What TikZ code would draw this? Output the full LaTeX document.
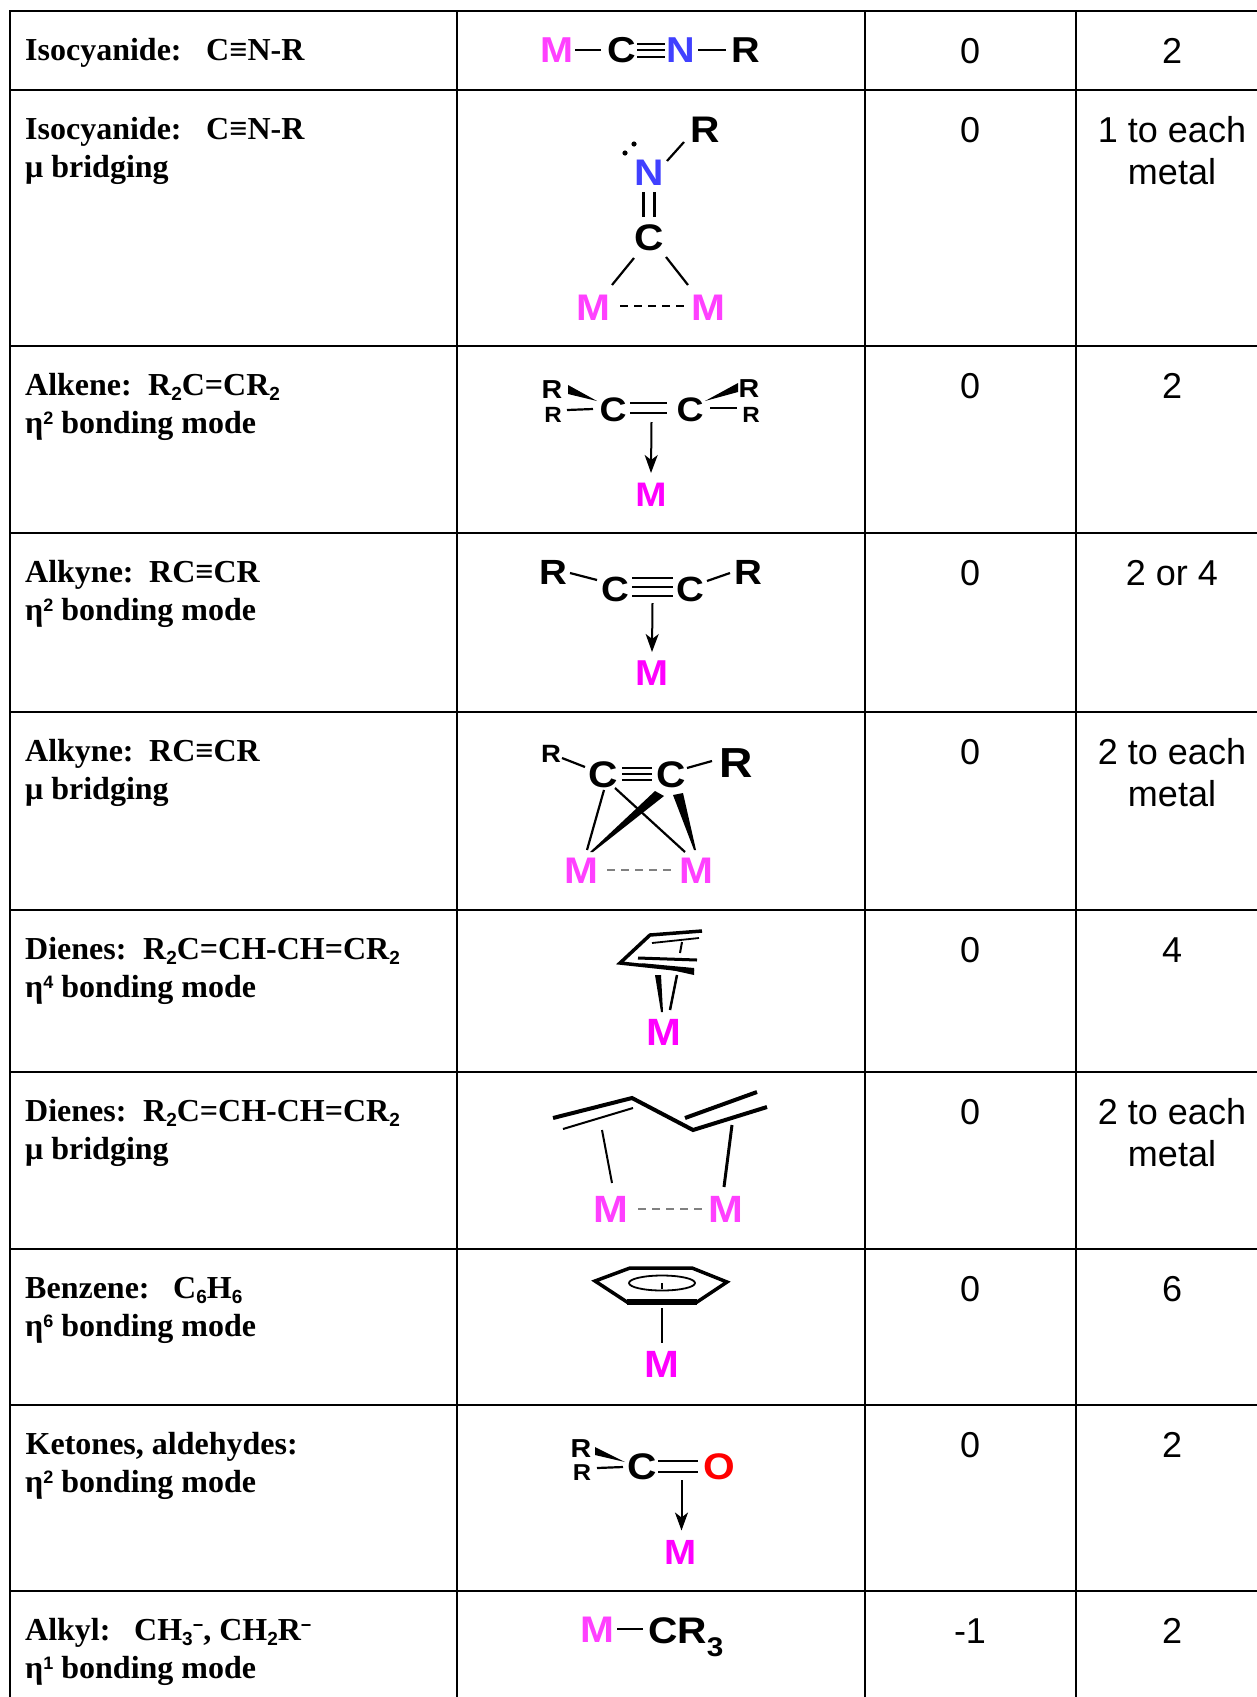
\documentclass[tikz,border=0pt]{standalone}
\usepackage{fontspec}
\setmainfont{Liberation Serif}
\newfontfamily\sansf{Liberation Sans}
\newfontfamily\chemf[FakeStretch=1.1]{Liberation Sans}
\usetikzlibrary{arrows.meta,calc}
\newcommand\fs[1]{\fontsize{#1}{#1}\selectfont}
\newcommand\lsub[1]{\raisebox{-5pt}{\sansf\bfseries\fs{19}#1}}
\newcommand\lsup[1]{\raisebox{9pt}{\sansf\bfseries\fs{18}#1}}
\definecolor{mpink}{RGB}{255,64,255}
\definecolor{mmag}{RGB}{255,0,255}
\definecolor{nblue}{RGB}{64,64,255}
\definecolor{ored}{RGB}{255,0,0}
\begin{document}
\begin{tikzpicture}[x=1pt,y=-1pt,
 tabline/.style={line width=2.6pt,line cap=rect},
 lbl/.style={font=\bfseries\fs{32},anchor=base west,inner sep=0pt},
 valtxt/.style={font=\sansf\fs{36},anchor=base,inner sep=0pt},
 atom/.style={font=\chemf\bfseries\fs{#1},inner sep=0pt},atom/.default=36,
 metal/.style={atom=#1,text=mpink},metal/.default=36,
 mag/.style={atom=#1,text=mmag},mag/.default=36,
 bond/.style={line width=2.2pt},
 mdash/.style={line width=1.6pt,dash pattern=on 8pt off 6pt,gray},
 dative/.style={line width=2pt,-{Stealth[length=18pt,width=13pt,inset=5pt]}}]
\useasboundingbox (0,0) rectangle (1257,1697);
\clip (0,0) rectangle (1257,1697);
\foreach \x in {10,457,865,1076} \draw[tabline] (\x,11) -- (\x,1720);
\foreach \y in {11,90,346,533,712,910,1072,1249,1405,1591} \draw[tabline] (10,\y) -- (1280,\y);
\foreach \k/\base/\gap/\first/\form/\second in {1/60/181/{Isocyanide:}/{C≡N-R}/{},2/139/181/{Isocyanide:}/{C≡N-R}/{μ bridging},3/395/123/{Alkene:}/{R\lsub{2}C=CR\lsub{2}}/{η\lsup{2} bonding mode},4/582/124/{Alkyne:}/{RC≡CR}/{η\lsup{2} bonding mode},5/761/124/{Alkyne:}/{RC≡CR}/{μ bridging},6/959/118/{Dienes:}/{R\lsub{2}C=CH-CH=CR\lsub{2}}/{η\lsup{4} bonding mode},7/1121/118/{Dienes:}/{R\lsub{2}C=CH-CH=CR\lsub{2}}/{μ bridging},8/1298/148/{Benzene:}/{C\lsub{6}H\lsub{6}}/{η\lsup{6} bonding mode},9/1454/0/{Ketones, aldehydes:}/{}/{η\lsup{2} bonding mode},10/1640/109/{Alkyl:}/{CH\lsub{3}\lsup{−}, CH\lsub{2}R\lsup{−}}/{η\lsup{1} bonding mode}}
 {\node[lbl] (name\k) at (25,\base) {\makebox[\gap pt][l]{\first}\form};
  \node[lbl] (mode\k) at (25,\base+38) {\second};}
\foreach \k/\base/\ox/\ea in {1/63/0/2,2/142/0/1 to each,3/398/0/2,4/585/0/2 or 4,5/764/0/2 to each,6/962/0/4,7/1124/0/2 to each,8/1301/0/6,9/1457/0/2,10/1643/-1/2}
 {\node[valtxt] (ox\k) at (970,\base) {\ox};\node[valtxt] (ea\k) at (1172,\base) {\ea};}
\foreach \k/\base in {2/142,5/764,7/1124} \node[valtxt] (met\k) at (1172,\base+42) {metal};
\node[metal] (m1) at (557,50) {M};\node[atom] (c1) at (622,50) {C};\node[atom,text=nblue] (n1) at (681,50) {N};\node[atom] (r1) at (746,50) {R};
\draw[bond] ($(m1)+(18,0)$) -- ($(c1)+(-21,0)$);\foreach \d in {-6.5,0,6.5} \draw[line width=2pt] ($(c1)+(15,\d)$) -- ($(n1)+(-16,\d)$);\draw[bond] ($(n1)+(17,0)$) -- ($(r1)+(-20,0)$);
\node[atom=37] (r2) at (705,130) {R};\node[atom=37,text=nblue] (n2) at (649,173) {N};\node[atom=37] (c2) at (649,238) {C};\node[metal=37] (m2a) at (593,308) {M};\node[metal=37] (m2b) at (708,308) {M};
\fill ($(n2)+(-24,-20)$) circle (2.6pt) ($(n2)+(-15,-29)$) circle (2.6pt);
\draw[bond] ($(n2)+(18,-12)$) -- ($(r2)+(-21,12)$);\foreach \d in {-5.5,5.5} \draw[bond] ($(n2)+(\d,19)$) -- ($(c2)+(\d,-21)$);
\draw[bond] ($(c2)+(-15,20)$) -- ($(m2a)+(19,-23)$);\draw[bond] ($(c2)+(17,19)$) -- ($(m2b)+(-20,-23)$);\draw[mdash,black] ($(m2a)+(27,-2)$) -- ($(m2b)+(-23,-2)$);
\node[atom=34] (c3a) at (613,410) {C};\node[atom=34] (c3b) at (690,410) {C};\node[atom=26] (r3a) at (552,390) {R};\node[atom=22] (r3b) at (553,415) {R};\node[atom=26] (r3c) at (749,389) {R};\node[atom=22] (r3d) at (751,415) {R};\node[mag=34] (m3) at (651,495) {M};
\foreach \d in {-7,3} \draw[bond] ($(c3a)+(17,\d)$) -- ($(c3b)+(-23,\d)$);
\fill ($(r3a)+(16,-5)$) -- ($(r3a)+(16,4)$) -- ($(c3a)+(-16,-9)$) -- cycle;\draw[bond] ($(r3b)+(14,-5)$) -- ($(c3a)+(-20,-1)$);
\fill ($(c3b)+(15,-9)$) -- ($(r3c)+(-11,-6)$) -- ($(r3c)+(-11,3)$) -- cycle;\draw[bond] ($(c3b)+(20,-2)$) -- ($(r3d)+(-14,-7)$);
\draw[dative] ($($(c3a)!0.5!(c3b)$)+(0,12)$) -- ($(m3)+(0,-22)$);
\node[atom=35] (r4a) at (553,572) {R};\node[atom=35] (c4a) at (615,589) {C};\node[atom=35] (c4b) at (690,589) {C};\node[atom=35] (r4b) at (748,572) {R};\node[mag] (m4) at (652,673) {M};
\draw[bond] ($(r4a)+(17,1)$) -- ($(c4a)+(-18,-9)$);\foreach \d in {-11,-2,7} \draw[bond] ($(c4a)+(17,\d)$) -- ($(c4b)+(-17,\d)$);\draw[bond] ($(c4b)+(17,-8)$) -- ($(r4b)+(-18,1)$);
\draw[dative] ($($(c4a)!0.5!(c4b)$)+(0,14)$) -- ($(m4)+(0,-21)$);
\node[atom=25] (r5a) at (551,754) {R};\node[atom=37] (c5a) at (603,775) {C};\node[atom=37] (c5b) at (671,775) {C};\node[atom=42] (r5b) at (736,763) {R};\node[metal=37] (m5a) at (581,871) {M};\node[metal=37] (m5b) at (696,871) {M};
\draw[bond] ($(r5a)+(11,4)$) -- ($(c5a)+(-18,-8)$);\foreach \d in {-7,-1,5} \draw[line width=2pt] ($(c5a)+(19,\d)$) -- ($(c5b)+(-19,\d)$);\draw[bond] ($(c5b)+(16,-7)$) -- ($(r5b)+(-24,-2)$);
\draw[bond] ($(c5a)+(1,15)$) -- ($(m5a)+(6,-21)$);\draw[bond] ($(c5a)+(12,13)$) -- ($(m5b)+(-11,-19)$);
\fill ($(c5b)+(-16,16)$) -- ($(c5b)+(-7,21)$) -- ($(m5a)+(12,-19)$) -- ($(m5a)+(9,-19)$) -- cycle;
\fill ($(c5b)+(2,20)$) -- ($(c5b)+(12,18)$) -- ($(m5b)+(0,-21)$) -- ($(m5b)+(-2,-21)$) -- cycle;
\draw[mdash] ($(m5a)+(26,-1)$) -- ($(m5b)+(-24,-1)$);
\node[mag=38] (m6) at (664,1032) {M};
\draw[line width=3.5pt,line join=miter] (702,931) -- (650,935) -- (620,963) -- (694,971);\fill (640,963) -- (694,968) -- (694,975) -- cycle;
\draw[line width=1.8pt] (652,943) -- (699,938);\draw[line width=3pt] (638,958) -- (697,960);\draw[line width=2pt] (682,942) -- (680,953);
\fill (655,975) -- (661,975) -- ($(m6)+(-1,-20)$) -- ($(m6)+(-3,-20)$) -- cycle;\draw[line width=2.5pt] (677,975) -- ($(m6)+(6,-22)$);
\node[metal=38] (m7a) at (611,1209) {M};\node[metal=38] (m7b) at (726,1209) {M};
\draw[line width=4pt,line join=miter] (553,1118) -- (632,1098) -- (693,1130) -- (767,1107);\draw[line width=2pt] (563,1129) -- (633,1108);\draw[line width=4pt] (685,1118) -- (757,1092);
\draw[line width=2pt] (602,1130) -- ($(m7a)+(1,-26)$);\draw[line width=3pt] (732,1125) -- ($(m7b)+(-2,-22)$);\draw[mdash] ($(m7a)+(27,0)$) -- ($(m7b)+(-23,0)$);
\node[mag=38] (m8) at (662,1364) {M};
\draw[line width=3.5pt,line join=miter] (595,1281) -- (630,1268) -- (692,1268) -- (727,1282) -- (697,1302) -- (627,1302) -- cycle;\draw[line width=6pt] (627,1302) -- (697,1302);
\draw[line width=1.8pt] (662,1283) ellipse [x radius=33pt,y radius=7.5pt];\draw[line width=1.8pt] (662,1283) -- (662,1289);\draw[line width=2pt] (662,1308) -- ($(m8)+(0,-21)$);
\node[atom=26] (r9a) at (581,1449) {R};\node[atom=23] (r9b) at (582,1473) {R};\node[atom=37] (c9) at (642,1467) {C};\node[atom=37,text=ored] (o9) at (719,1467) {O};\node[mag=35] (m9) at (680.5,1552.5) {M};
\fill ($(r9a)+(14,-2)$) -- ($(r9a)+(14,6)$) -- ($(c9)+(-17,-5)$) -- cycle;\draw[bond] ($(r9b)+(15,-5)$) -- ($(c9)+(-19,0)$);
\foreach \d in {-6,5} \draw[bond] ($(c9)+(16,\d)$) -- ($(o9)+(-21,\d)$);\draw[dative] ($($(c9)!0.5!(o9)$)+(1,13)$) -- ($(m9)+(1,-22)$);
\node[metal=37] (m10) at (597,1630) {M};\node[atom=37,anchor=base west] (cr10) at (648,1643) {CR\raisebox{-13pt}{\fs{27}3}};
\draw[bond] ($(m10)+(20,-1)$) -- ($(m10 -| cr10.west)+(-5,-1)$);
\end{tikzpicture}
\end{document}
